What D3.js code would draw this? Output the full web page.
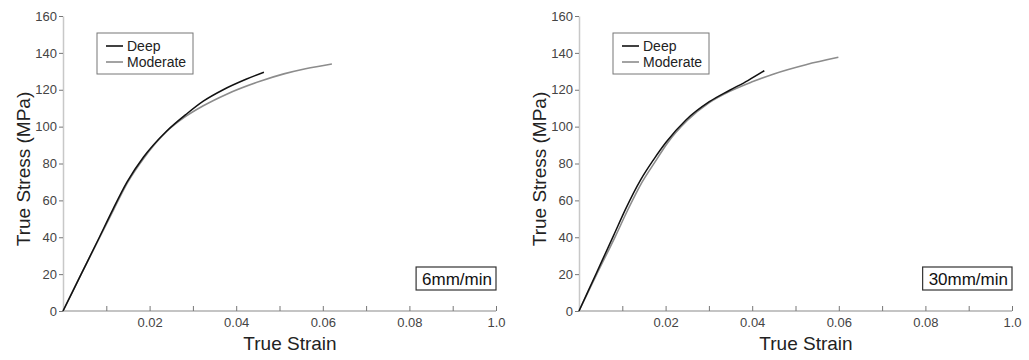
<!DOCTYPE html>
<html>
<head>
<meta charset="utf-8">
<script src="https://cdn.jsdelivr.net/npm/d3@7"></script>
<style>
  body { margin: 0; background: #fff; }
  svg { display: block; font-family: "Liberation Sans", Arial, sans-serif; }
</style>
</head>
<body>
<div id="chart"></div>
<script>
// tick values and labels
const strainTicks = [0.01, 0.02, 0.03, 0.04, 0.05, 0.06, 0.07, 0.08, 0.09, 0.10];
const strainTickLabels = ["", "0.02", "", "0.04", "", "0.06", "", "0.08", "", "1.0"];
const stressTicks = [0, 20, 40, 60, 80, 100, 120, 140, 160];
const seriesNames = ["Deep", "Moderate"];
const rateLabels = ["6mm/min", "30mm/min"];

// 6 mm/min
const deep6Strain = [0, 0.0042, 0.0084, 0.0115, 0.0148, 0.0186, 0.0239, 0.0286, 0.0324, 0.0370, 0.0424, 0.0464];
const deep6Stress = [0, 20, 40, 55, 70, 83.5, 97.5, 107, 113.8, 120.0, 125.8, 129.5];
const mod6Strain = [0, 0.0042, 0.0085, 0.0117, 0.0150, 0.0187, 0.0240, 0.0280, 0.0324, 0.0378, 0.0455, 0.0510, 0.0560, 0.0621];
const mod6Stress = [0, 20, 40, 55, 70, 83, 97.5, 105, 111.3, 117.6, 124.6, 128.6, 131.4, 134.0];

// 30 mm/min
const deep30Strain = [0, 0.0040, 0.0080, 0.0107, 0.0142, 0.0172, 0.0201, 0.0247, 0.0301, 0.0347, 0.0390, 0.0428];
const deep30Stress = [0, 20.5, 41, 55, 71, 82, 91.5, 103.6, 113.5, 119.6, 125.0, 130.3];
const mod30Strain = [0, 0.0041, 0.0084, 0.0112, 0.0146, 0.0176, 0.0204, 0.0250, 0.0301, 0.0347, 0.0400, 0.0450, 0.0524, 0.0599];
const mod30Stress = [0, 20, 40.5, 54.5, 70, 81, 91, 103.3, 113, 119, 124.3, 128.6, 133.6, 137.6];

const width = 1029, height = 360;
const colors = {Deep: "#111", Moderate: "#8c8c8c"};

const svg = d3.select("#chart").append("svg")
  .attr("width", width)
  .attr("height", height);

const zip = (xs, ys) => xs.map((x, i) => [x, ys[i]]);

const panels = [
  {left: 63, label: rateLabels[0], deep: zip(deep6Strain, deep6Stress), mod: zip(mod6Strain, mod6Stress)},
  {left: 579, label: rateLabels[1], deep: zip(deep30Strain, deep30Stress), mod: zip(mod30Strain, mod30Stress)}
];

panels.forEach(p => {
  const x = d3.scaleLinear().domain([0, 0.1]).range([p.left, p.left + 433]);
  const y = d3.scaleLinear().domain([0, 160]).range([311, 16]);

  const g = svg.append("g");

  // x axis, ticks pointing inward
  const xAxis = g.append("g")
    .attr("transform", `translate(0,${y(0)})`)
    .call(d3.axisBottom(x).tickValues(strainTicks)
      .tickFormat((d, i) => strainTickLabels[i])
      .tickSize(-5).tickSizeOuter(0).tickPadding(7));
  xAxis.select(".domain").attr("stroke", "#b0b0b0").attr("stroke-width", 1.5)
    .attr("d", `M${x(0)},0H${x(0.1)}`);
  xAxis.selectAll(".tick line").attr("stroke", "#777");
  xAxis.selectAll("text").attr("fill", "#444").style("font-size", "13px");

  // y axis
  const yAxis = g.append("g")
    .attr("transform", `translate(${x(0)},0)`)
    .call(d3.axisLeft(y).tickValues(stressTicks).tickSize(4).tickSizeOuter(0).tickPadding(2));
  yAxis.select(".domain").attr("stroke", "#c8c8c8").attr("stroke-width", 1.5);
  yAxis.selectAll(".tick line").attr("stroke", "#777");
  yAxis.selectAll("text").attr("fill", "#444").style("font-size", "13px");

  // axis titles
  g.append("text")
    .attr("x", x(0) + 227)
    .attr("y", 350)
    .attr("text-anchor", "middle")
    .attr("fill", "#222")
    .style("font-size", "19px")
    .text("True Strain");

  g.append("text")
    .attr("transform", `translate(${x(0) - 33},169) rotate(-90)`)
    .attr("text-anchor", "middle")
    .attr("fill", "#222")
    .style("font-size", "19px")
    .text("True Stress (MPa)");

  // curves
  const line = d3.line()
    .x(d => x(d[0]))
    .y(d => y(d[1]))
    .curve(d3.curveMonotoneX);

  g.append("path").datum(p.mod)
    .attr("fill", "none").attr("stroke", colors.Moderate).attr("stroke-width", 1.6)
    .attr("d", line);
  g.append("path").datum(p.deep)
    .attr("fill", "none").attr("stroke", colors.Deep).attr("stroke-width", 1.5)
    .attr("d", line);

  // legend
  const lg = g.append("g").attr("transform", `translate(${x(0) + 34},33)`);
  lg.append("rect")
    .attr("width", 96).attr("height", 41)
    .attr("fill", "#fff").attr("stroke", "#777").attr("stroke-width", 1);
  seriesNames.forEach((name, i) => {
    const yy = 13 + i * 16;
    lg.append("line")
      .attr("x1", 9).attr("x2", 26).attr("y1", yy).attr("y2", yy)
      .attr("stroke", colors[name]).attr("stroke-width", 1.6);
    lg.append("text")
      .attr("x", 30).attr("y", yy + 5)
      .attr("fill", "#222")
      .style("font-size", "14px")
      .text(name);
  });

  // rate label box
  const rg = g.append("g");
  const rt = rg.append("text")
    .attr("x", x(0.1) - 4)
    .attr("y", 285)
    .attr("text-anchor", "end")
    .attr("fill", "#111")
    .style("font-size", "17px")
    .text(p.label);
  const bb = rt.node().getBBox();
  rg.insert("rect", "text")
    .attr("x", bb.x - 6).attr("y", 267)
    .attr("width", bb.width + 10).attr("height", 23)
    .attr("fill", "#fff").attr("stroke", "#333").attr("stroke-width", 1.2);
});
</script>
</body>
</html>
